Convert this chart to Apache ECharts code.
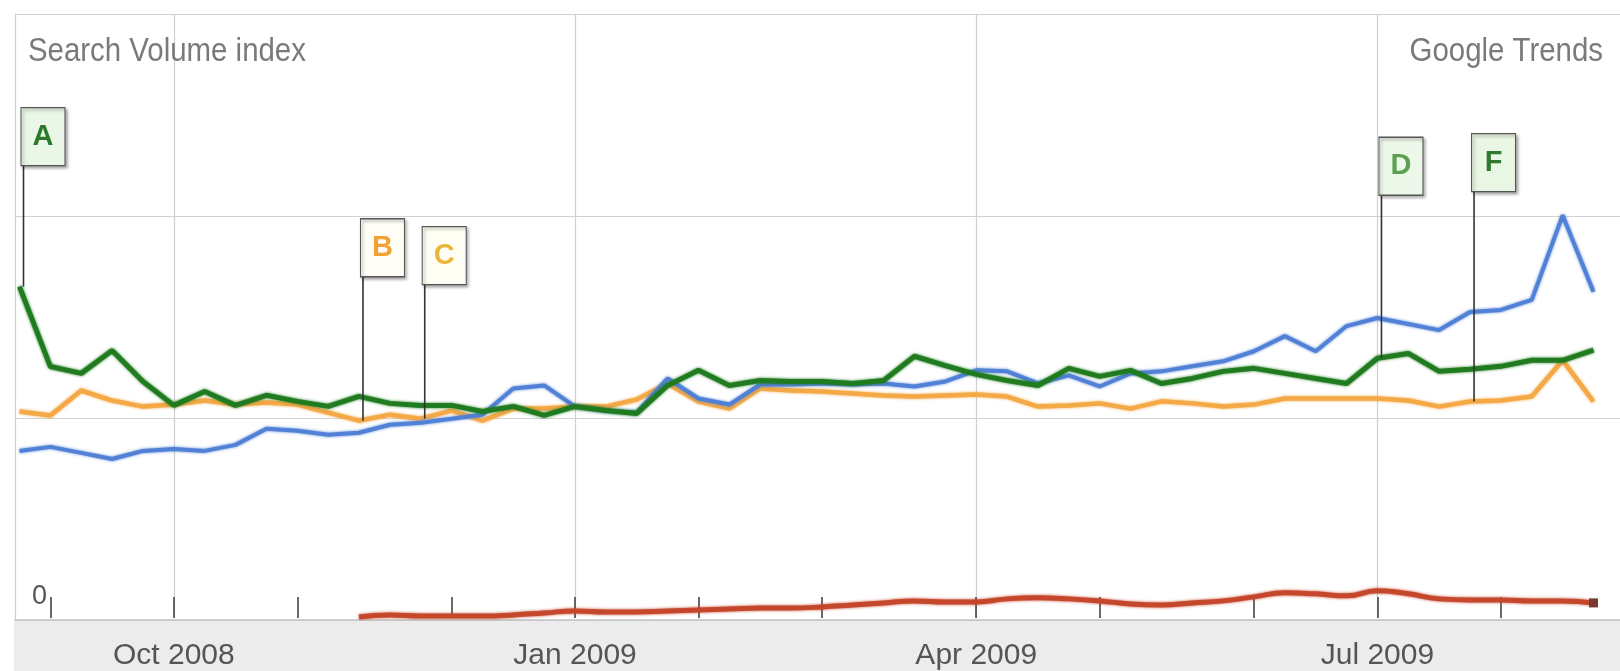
<!DOCTYPE html>
<html><head><meta charset="utf-8">
<script src="https://cdn.jsdelivr.net/npm/echarts@6/dist/echarts.min.js"></script>
<style>html,body{margin:0;padding:0;background:#fff}#c{width:1620px;height:671px}</style>
</head><body><div id="c"></div>
<script>
// ---------------- data ----------------
const firstWeek = [2008, 7, 25];           // Monday 25 Aug 2008, weekly points
const weekCount = 52;
const tickMonths = ['2008-10', '2009-01', '2009-04', '2009-07'];
const tickLabels = ['Oct 2008', 'Jan 2009', 'Apr 2009', 'Jul 2009'];
const titleLeft = 'Search Volume index';
const titleRight = 'Google Trends';

const blue = [0.83,0.85,0.82,0.79,0.83,0.84,0.83,0.86,0.94,0.93,0.91,0.92,0.96,0.97,0.99,1.01,1.14,1.155,1.05,1.03,1.02,1.19,1.09,1.06,1.16,1.16,1.165,1.16,1.165,1.15,1.175,1.23,1.225,1.165,1.205,1.15,1.215,1.225,1.25,1.275,1.325,1.40,1.325,1.45,1.49,1.46,1.43,1.52,1.53,1.58,2.0,1.62];
const red = [null,null,null,null,null,null,null,null,null,null,null,0.005,0.015,0.01,0.01,0.01,0.015,0.025,0.035,0.03,0.03,0.035,0.04,0.045,0.05,0.05,0.055,0.065,0.075,0.085,0.08,0.08,0.095,0.10,0.095,0.085,0.07,0.065,0.075,0.085,0.105,0.125,0.12,0.11,0.135,0.12,0.095,0.09,0.09,0.085,0.085,0.075];
const orange = [1.026,1.006,1.13,1.08,1.05,1.06,1.08,1.06,1.07,1.06,1.02,0.98,1.01,0.99,1.03,0.98,1.04,1.04,1.05,1.05,1.085,1.165,1.075,1.04,1.14,1.13,1.125,1.115,1.105,1.10,1.105,1.11,1.10,1.05,1.055,1.066,1.04,1.076,1.066,1.05,1.06,1.09,1.09,1.09,1.09,1.08,1.05,1.075,1.08,1.10,1.28,1.075];
const green = [1.646,1.249,1.215,1.329,1.175,1.056,1.125,1.056,1.106,1.076,1.051,1.101,1.066,1.056,1.056,1.026,1.051,1.006,1.051,1.031,1.016,1.155,1.23,1.155,1.18,1.175,1.175,1.165,1.18,1.30,1.254,1.21,1.18,1.155,1.24,1.20,1.23,1.165,1.19,1.225,1.24,1.215,1.19,1.165,1.29,1.314,1.225,1.235,1.25,1.28,1.28,1.33];

const flags = [
  { letter: 'A', series: 'green',  week: 0 },
  { letter: 'B', series: 'orange', week: 11 },
  { letter: 'C', series: 'orange', week: 13 },
  { letter: 'D', series: 'green',  week: 44 },
  { letter: 'F', series: 'orange', week: 47 }
];

// ---------------- derived ----------------
const weeks = [];
const monthStartOf = [];   // month key if the week contains the 1st of a month
for (let i = 0; i < weekCount; i++) {
  const d = new Date(Date.UTC(firstWeek[0], firstWeek[1], firstWeek[2] + i * 7));
  weeks.push(d.toISOString().slice(0, 10));
  let key = null;
  for (let k = 0; k < 7; k++) {
    const e = new Date(Date.UTC(firstWeek[0], firstWeek[1], firstWeek[2] + i * 7 + k));
    if (e.getUTCDate() === 1) key = e.toISOString().slice(0, 7);
  }
  monthStartOf.push(key);
}
const labelOf = i => { const j = tickMonths.indexOf(monthStartOf[i]); return j >= 0 ? tickLabels[j] : ''; };

const seriesData = { blue, red, orange, green };

// ---------------- styles ----------------
const FONT = "'Liberation Sans', Arial, sans-serif";
const flagStyle = {
  A: { pole: 121, fill: '#eaf7e6', color: '#2b7a2b' },
  B: { pole: 144, fill: '#fffdf6', color: '#f0a332' },
  C: { pole: 134, fill: '#fffef4', color: '#ecb53a' },
  D: { pole: 163, fill: '#eef8ea', color: '#5aa24f' },
  F: { pole: 210, fill: '#eaf6e4', color: '#2f7a2f' }
};
const POLE_DX = 4, BOX_W = 44, BOX_H = 58, BOX_DX = 19.5;

const flagPoints = [];
flags.forEach(f => {
  const s = flagStyle[f.letter];
  const v = seriesData[f.series][f.week];
  flagPoints.push({
    coord: [f.week, v], symbol: 'rect', symbolSize: [1.6, s.pole],
    symbolOffset: [POLE_DX, -s.pole / 2],
    itemStyle: { color: '#333' }, label: { show: false }
  });
  flagPoints.push({
    coord: [f.week, v], symbol: 'rect', symbolSize: [BOX_W, BOX_H],
    symbolOffset: [POLE_DX + BOX_DX, -(s.pole + BOX_H / 2)],
    itemStyle: { color: s.fill, borderColor: '#555', borderWidth: 1.2,
      shadowColor: 'rgba(0,0,0,0.35)', shadowBlur: 3, shadowOffsetX: 2, shadowOffsetY: 2 },
    label: { show: true, formatter: f.letter, position: 'inside', color: s.color,
      fontSize: 29, fontFamily: FONT, fontWeight: 'bold' }
  });
});

const lineSeries = (name, data, color, width, extra) => Object.assign({
  name, type: 'line', xAxisIndex: 1, yAxisIndex: 1, data,
  symbol: 'none', animation: false, silent: true,
  lineStyle: { color, width, shadowColor: color, shadowBlur: 3, opacity: 0.95 },
  itemStyle: { color }
}, extra || {});

const redData = red.map((v, i) => (i === red.length - 1)
  ? { value: v, symbol: 'rect', symbolSize: 9, itemStyle: { color: '#7a3a30' } } : v);

const option = {
  backgroundColor: '#ffffff',
  animation: false,
  graphic: [
    { type: 'rect', z: -10, shape: { x: 14, y: 620, width: 1606, height: 51 }, style: { fill: '#ececec' } },
    { type: 'text', x: 28, y: 52, scaleX: 0.865, z: 5,
      style: { text: titleLeft, font: "34px 'Liberation Sans', Arial, sans-serif", fill: '#7a7a7a',
        textAlign: 'left', textVerticalAlign: 'middle' } },
    { type: 'text', x: 1603, y: 52, scaleX: 0.865, z: 5,
      style: { text: titleRight, font: "34px 'Liberation Sans', Arial, sans-serif", fill: '#7a7a7a',
        textAlign: 'right', textVerticalAlign: 'middle' } }
  ],
  grid: [
    { left: 15, top: 14, right: 0, height: 606 },
    { left: 19.5, top: 14, width: 1574, height: 606 }
  ],
  xAxis: [
    { type: 'value', gridIndex: 0, min: 0, max: 1, show: true,
      axisLine: { show: true, lineStyle: { color: '#c4c4c4', width: 1.5 } },
      axisTick: { show: false }, axisLabel: { show: false }, splitLine: { show: false } },
    { type: 'category', gridIndex: 1, data: weeks, boundaryGap: false,
      axisLine: { show: false },
      axisTick: { show: true, inside: true, length: 21, interval: i => monthStartOf[i] !== null,
        lineStyle: { color: '#444', width: 1.6 } },
      splitLine: { show: true, interval: i => labelOf(i) !== '', lineStyle: { color: '#cfcfcf', width: 1.2 } },
      axisLabel: { show: true, interval: i => labelOf(i) !== '', formatter: (v, i) => labelOf(i),
        margin: 23, fontSize: 30, color: '#555', fontFamily: FONT } }
  ],
  yAxis: [
    { type: 'value', gridIndex: 0, min: 0, max: 3, interval: 1,
      axisLine: { show: true, lineStyle: { color: '#cfcfcf', width: 1.2 } },
      axisTick: { show: false },
      splitLine: { show: true, lineStyle: { color: '#d2d2d2', width: 1.2 } },
      axisLabel: { show: true, inside: true, margin: 17, formatter: v => v === 0 ? '0' : '',
        verticalAlign: 'bottom', padding: [0, 0, 10, 0], fontSize: 27, color: '#555', fontFamily: FONT } },
    { type: 'value', gridIndex: 1, min: 0, max: 3, interval: 1, show: false,
      splitLine: { show: false } }
  ],
  series: [
    lineSeries('red', redData, '#c4462a', 5, { smooth: true, showSymbol: true, symbol: 'none' }),
    lineSeries('orange', orange, '#f3a843', 4.5),
    lineSeries('blue', blue, '#4e7fd6', 4),
    lineSeries('green', green, '#1f7a1f', 5),
    { name: 'flags', type: 'line', xAxisIndex: 1, yAxisIndex: 1, data: green.map(() => null),
      symbol: 'none', silent: true, z: 10, animation: false,
      markPoint: { data: flagPoints, animation: false, silent: true, z: 10 } }
  ]
};
echarts.init(document.getElementById('c')).setOption(option);
</script>
</body></html>
